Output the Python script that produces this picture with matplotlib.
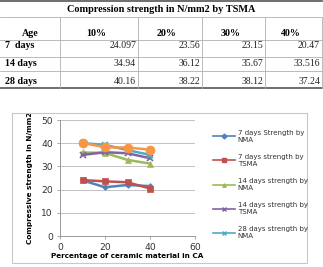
import matplotlib.pyplot as plt
from matplotlib.patches import Rectangle
from matplotlib.lines import Line2D

# table data (TSMA)
table_title = 'Compression strength in N/mm2 by TSMA'
col_heads = ['10%', '20%', '30%', '40%']
row_heads = ['7  days', '14 days', '28 days']
table_vals = [
  ['24.097', '23.56', '23.15', '20.47'],
  ['34.94', '36.12', '35.67', '33.516'],
  ['40.16', '38.22', '38.12', '37.24'],
]

# chart data
pct = [10, 20, 30, 40]
s7_nma = [24.0, 21.0, 22.0, 21.5]
s7_tsma = [24.097, 23.56, 23.15, 20.47]
s14_nma = [36.0, 35.8, 32.8, 31.2]
s14_tsma = [34.94, 36.12, 35.67, 33.516]
s28_nma = [40.0, 39.3, 37.0, 35.0]
s28_tsma = [40.16, 38.22, 38.12, 37.24]

W, H = 323, 267
fig = plt.figure(figsize=(W / 100, H / 100), dpi=100)

# ---- table, drawn in pixel coords
tab = fig.add_axes([0, 0, 1, 1])
tab.set_xlim(0, W)
tab.set_ylim(H, 0)
tab.axis('off')

serif = 'Liberation Serif'
col_x = [0, 60, 138, 202, 265, 322]
row_y = [1, 17, 40, 57, 71, 88]

tab.plot([0, 322], [1, 1], color='#555555', lw=1.2)
tab.plot([0, 322], [88, 88], color='#555555', lw=1.2)
for y in row_y[1:-1]:
  tab.plot([0, 322], [y, y], color='#b0b0b0', lw=0.6)
for x in col_x[1:]:
  tab.plot([x, x], [17, 88], color='#b0b0b0', lw=0.6)

tab.text(161, 10, table_title, fontsize=7.4, fontweight='bold', family=serif,
         ha='center', va='center')
tab.text(30, 34, 'Age', fontsize=7.2, fontweight='bold', family=serif,
         ha='center', va='center')
for i, h in enumerate(col_heads):
  tab.text((col_x[i + 1] + col_x[i + 2]) / 2 - 3, 34, h, fontsize=7.2,
           fontweight='bold', family=serif, ha='center', va='center')
text_y = [46, 63, 82]
for r, lab in enumerate(row_heads):
  tab.text(5, text_y[r], lab, fontsize=7.2, fontweight='bold', family=serif,
           ha='left', va='center')
  for c, v in enumerate(table_vals[r]):
    tab.text(col_x[c + 2] - 2, text_y[r], v, fontsize=7, family=serif,
             ha='right', va='center', color='#222222')

# chart frame
fig.patches.append(Rectangle((12 / W, 1 - 263 / H), 295 / W, 150 / H,
                             transform=fig.transFigure, fill=False,
                             edgecolor='#c8c8c8', lw=0.8))

ax = fig.add_axes([60 / W, 1 - 236 / H, 135 / W, 116 / H])
series = [
  (s7_nma, '#4F81BD', 'D', 3, '7 days Strength by\nNMA'),
  (s7_tsma, '#C0504D', 's', 5, '7 days strength by\nTSMA'),
  (s14_nma, '#9BBB59', '^', 5, '14 days strength by\nNMA'),
  (s14_tsma, '#8064A2', 'x', 5, '14 days strength by\nTSMA'),
  (s28_nma, '#4BACC6', 'x', 5, '28 days strength by\nNMA'),
  (s28_tsma, '#F79646', 'o', 6.5, '28 days strength by\nTSMA'),
]
handles = []
for vals, col, mk, ms, lab in series:
  ax.plot(pct, vals, color=col, marker=mk, markersize=ms, lw=1.8,
          markeredgewidth=1.2 if mk == 'x' else 0.5)
  if lab.startswith('28 days strength by\nNMA'):
    # excel star marker = x plus a vertical bar
    ax.plot(pct, vals, ls='none', marker='|', markersize=5, color=col,
            markeredgewidth=1.0)
  handles.append(Line2D([], [], color=col, marker=mk, markersize=2.5, lw=1.2,
                        label=lab))

ax.set_xlim(0, 60)
ax.set_ylim(0, 50)
ax.set_xticks([0, 20, 40, 60])
ax.set_yticks([0, 10, 20, 30, 40, 50])
ax.grid(axis='y', color='#b8b8b8', lw=0.6)
ax.set_axisbelow(True)
for s in ['top', 'right']:
  ax.spines[s].set_visible(False)
for s in ['left', 'bottom']:
  ax.spines[s].set_color('#999999')
  ax.spines[s].set_linewidth(0.7)
ax.tick_params(labelsize=6.6, length=2.5, width=0.6, color='#999999', pad=2.5,
               labelcolor='#333333')
ax.set_xlabel('Percentage of ceramic material in CA', fontsize=5.2,
              fontweight='bold', labelpad=1)
ax.set_ylabel('Compressive strength in N/mm2', fontsize=5.2,
              fontweight='bold', labelpad=6)

# legend: last entry is cut off by the chart frame in the original
fig.legend(handles=handles[:5], loc='upper left',
           bbox_to_anchor=(210 / W, 1 - 127 / H), frameon=False,
           fontsize=5, handlelength=3.2, handletextpad=0.4,
           labelspacing=1.6, borderaxespad=0, labelcolor='#333333')

fig.savefig('out.png', dpi=100)
